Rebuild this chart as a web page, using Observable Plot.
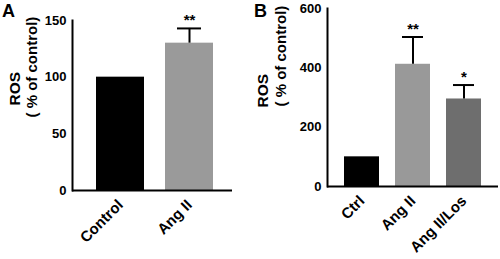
<!DOCTYPE html>
<html>
<head>
<meta charset="utf-8">
<script src="https://cdn.jsdelivr.net/npm/d3@7"></script>
<script src="https://cdn.jsdelivr.net/npm/@observablehq/plot@0.6"></script>
<style>
  html, body { margin: 0; padding: 0; background: #fff; }
  #wrap { position: relative; width: 500px; height: 259px; font-family: "Liberation Sans", Arial, sans-serif; }
  .panel { position: absolute; top: 0; font-weight: bold; font-size: 18px; color: #000; line-height: 1; }
  svg { font-family: "Liberation Sans", Arial, sans-serif; }
</style>
</head>
<body>
<div id="wrap">
  <div class="panel" style="left:2px; top:2px;">A</div>
  <div class="panel" style="left:254px; top:2px;">B</div>
</div>
<script>
// Panel A data
const categoriesA = ["Control", "Ang II"];
const valuesA = [100, 130];
const errorsA = [0, 13];
const starsA = ["", "**"];
const colorsA = ["#000000", "#9a9a9a"];
const ticksA = [0, 50, 100, 150];

// Panel B data
const categoriesB = ["Ctrl", "Ang II", "Ang II/Los"];
const valuesB = [100, 412, 295];
const errorsB = [0, 92, 47];
const starsB = ["", "**", "*"];
const colorsB = ["#000000", "#999999", "#6e6e6e"];
const ticksB = [0, 200, 400, 600];

const yLabel1 = "ROS";
const yLabel2 = "( % of control)";

function panel({cats, vals, errs, stars, colors, ticks, ymax, width, ml, mr, mt, mb, pad, align, capInset, lx1, ldy1, lx2, ldy2}) {
  const data = cats.map((c, i) => ({cat: c, v: vals[i], e: errs[i], s: stars[i], top: vals[i] + errs[i]}));
  const withErr = data.filter(d => d.e > 0);
  return Plot.plot({
    width, height: 259,
    marginLeft: ml, marginRight: mr, marginTop: mt, marginBottom: mb,
    style: {fontFamily: "Liberation Sans, Arial, sans-serif", fontWeight: "bold", color: "#000", background: "#fff"},
    x: {domain: cats, paddingInner: pad, paddingOuter: pad, align, label: null},
    y: {domain: [0, ymax], label: null},
    color: {domain: cats, range: colors},
    marks: [
      Plot.barY(data, {x: "cat", y: "v", fill: "cat"}),
      Plot.ruleX(withErr, {x: "cat", y1: "v", y2: "top", stroke: "#000", strokeWidth: 2}),
      Plot.tickY(withErr, {x: "cat", y: "top", stroke: "#000", strokeWidth: 2, insetLeft: capInset, insetRight: capInset}),
      Plot.text(withErr, {x: "cat", y: "top", text: "s", dy: -8, fontSize: 15, fontWeight: "bold", fill: "#000"}),
      Plot.axisY({ticks, tickSize: 0, tickPadding: 6, fontSize: 13, fontWeight: "bold", label: null}),
      Plot.axisX({tickSize: 0, tickRotate: -45, tickPadding: 12, fontSize: 15, fontWeight: "bold", label: null}),
      Plot.frame({anchor: "left", stroke: "#000", strokeWidth: 2}),
      Plot.ruleY([0], {stroke: "#000", strokeWidth: 2}),
      Plot.text([yLabel1], {frameAnchor: "left", dx: lx1, dy: ldy1, rotate: -90, fontSize: 15.5, fontWeight: "bold", fill: "#000"}),
      Plot.text([yLabel2], {frameAnchor: "left", dx: lx2, dy: ldy2, rotate: -90, fontSize: 15, fontWeight: "bold", fill: "#000"})
    ]
  });
}

const wrap = document.getElementById("wrap");
const a = panel({cats: categoriesA, vals: valuesA, errs: errorsA, stars: starsA, colors: colorsA, ticks: ticksA, ymax: 150,
  width: 250, ml: 72, mr: 18, mt: 20, mb: 69, pad: 0.3, align: 0.56, capInset: 12, lx1: -57, ldy1: 0, lx2: -40, ldy2: 12});
const b = panel({cats: categoriesB, vals: valuesB, errs: errorsB, stars: starsB, colors: colorsB, ticks: ticksB, ymax: 600,
  width: 250, ml: 77, mr: 2, mt: 8, mb: 73, pad: 0.31, align: 0.5, capInset: 7, lx1: -64, ldy1: 10, lx2: -46, ldy2: 9});
a.style.position = "absolute"; a.style.left = "0px"; a.style.top = "0px";
b.style.position = "absolute"; b.style.left = "250px"; b.style.top = "0px";
wrap.insertBefore(a, wrap.firstChild);
wrap.insertBefore(b, wrap.firstChild);
</script>
</body>
</html>
